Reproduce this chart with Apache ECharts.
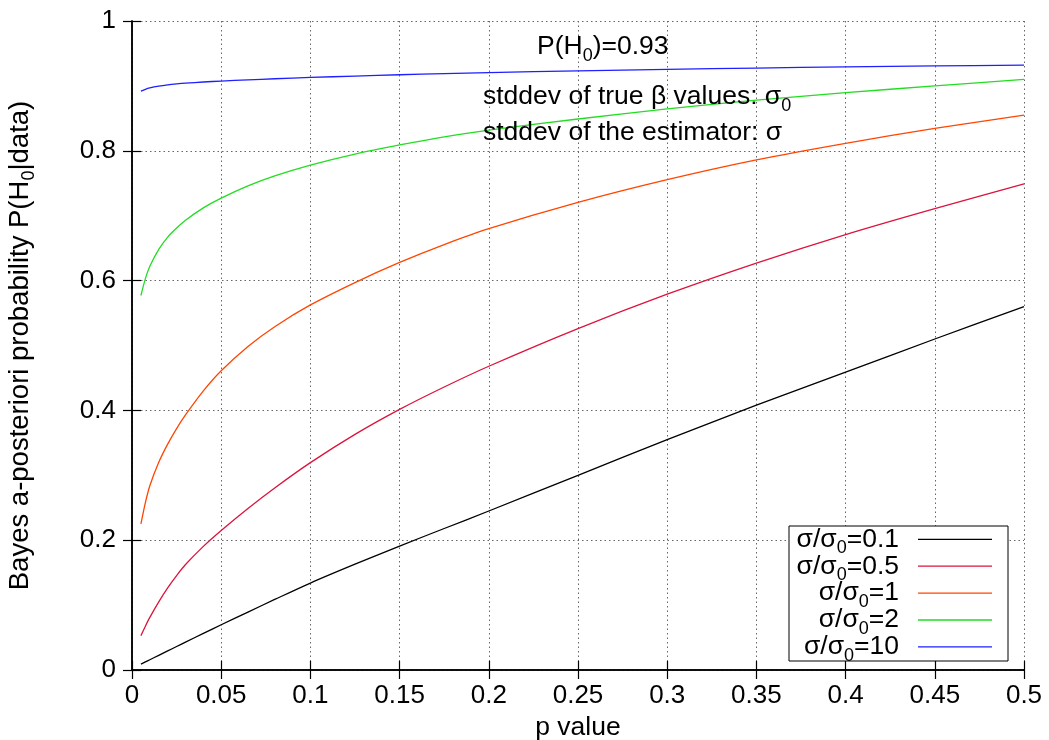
<!DOCTYPE html>
<html><head><meta charset="utf-8">
<script src="https://cdn.jsdelivr.net/npm/echarts@6/dist/echarts.min.js"></script>
<style>html,body{margin:0;padding:0;background:#fff}#chart{width:1049px;height:740px}</style>
</head><body><div id="chart"></div>
<script>
// ---- data ----
const pValues = [0.005, 0.0075, 0.01, 0.015, 0.02, 0.025, 0.03, 0.04, 0.05, 0.065, 0.08, 0.1, 0.125, 0.15, 0.175, 0.2, 0.25, 0.3, 0.35, 0.4, 0.45, 0.5];
const ratioLabels = ['0.1', '0.5', '1', '2', '10'];
const seriesColors = ['#000000', '#dc143c', '#ff4500', '#22dd22', '#1f1fff'];
const postRatio01 = [0.009, 0.0124, 0.0158, 0.0226, 0.0294, 0.0362, 0.043, 0.0564, 0.0697, 0.0892, 0.1087, 0.134, 0.163, 0.191, 0.218, 0.245, 0.300, 0.355, 0.408, 0.459, 0.510, 0.560];
const postRatio05 = [0.053, 0.0675, 0.081, 0.105, 0.1265, 0.1455, 0.1625, 0.1905, 0.215, 0.249, 0.2805, 0.3195, 0.363, 0.4015, 0.436, 0.468, 0.526, 0.579, 0.627, 0.671, 0.711, 0.749];
const postRatio1 = [0.225, 0.258, 0.284, 0.320, 0.348, 0.372, 0.393, 0.430, 0.461, 0.4985, 0.529, 0.5625, 0.597, 0.628, 0.6555, 0.680, 0.7205, 0.7555, 0.786, 0.8115, 0.8345, 0.855];
const postRatio2 = [0.577, 0.603, 0.622, 0.648, 0.667, 0.681, 0.693, 0.712, 0.727, 0.7459, 0.7613, 0.778, 0.795, 0.809, 0.8215, 0.832, 0.849, 0.8645, 0.878, 0.8895, 0.900, 0.910];
const postRatio10 = [0.892, 0.8948, 0.8968, 0.8995, 0.9015, 0.903, 0.9042, 0.906, 0.9075, 0.9093, 0.911, 0.913, 0.9152, 0.9172, 0.919, 0.9205, 0.9232, 0.9255, 0.9275, 0.9293, 0.9308, 0.932];
const allSeries = [postRatio01, postRatio05, postRatio1, postRatio2, postRatio10];
const xAxisMin = 0, xAxisMax = 0.5, xAxisStep = 0.05;
const yAxisMin = 0, yAxisMax = 1, yAxisStep = 0.2;
const priorText = 'P(H{s|0})=0.93';
const noteLine1 = 'stddev of true β values: σ{s|0}';
const noteLine2 = 'stddev of the estimator: σ';
const xTitle = 'p value';
const yTitle = 'Bayes a-posteriori probability P(H{s|0}|data)';

// ---- styling ----
const F = "'Liberation Sans', Arial, Helvetica, sans-serif";
const FS = 26.5;
function makeRich(size) {
  return {
    m: { fontSize: size, fontFamily: F, lineHeight: 36, fill: '#000', color: '#000' },
    s: { fontSize: 18, fontFamily: F, lineHeight: 18, verticalAlign: 'bottom', fill: '#000', color: '#000' }
  };
}
const richStyles = makeRich(FS);
function richText(str) {
  return str.split(/(\{s\|[^}]*\})/).filter(t => t.length).map(t => t.startsWith('{s|') ? t : '{m|' + t + '}').join('');
}

const chart = echarts.init(document.getElementById('chart'), null, { renderer: 'canvas' });

const series = allSeries.map((vals, i) => ({
  name: 'σ/σ0=' + ratioLabels[i],
  type: 'line',
  data: pValues.map((p, j) => [p, vals[j]]),
  showSymbol: false,
  smooth: 0.3,
  lineStyle: { color: seriesColors[i], width: 1.3 },
  itemStyle: { color: seriesColors[i] },
  z: 3
}));

const gridLine = { show: true, lineStyle: { color: '#666', type: [1.5, 3], width: 1 } };
const axisLineStyle = { show: true, lineStyle: { color: '#000', width: 1.5 } };
const tickStyle = { show: true, inside: true, length: 9, lineStyle: { color: '#000', width: 1.2 } };

const legendGraphics = [];
const rowY0 = 539.3, rowStep = 26.9;
legendGraphics.push({
  type: 'rect', z: 100,
  shape: { x: 789, y: 526, width: 219, height: 135 },
  style: { fill: '#fff', stroke: '#000', lineWidth: 1 }
});
ratioLabels.forEach((r, i) => {
  const y = rowY0 + rowStep * i;
  legendGraphics.push({
    type: 'text', z: 101, x: 899, y: y,
    style: { text: richText('σ/σ{s|0}=' + r), align: 'right', verticalAlign: 'middle', rich: richStyles, fontFamily: F, fontSize: FS, fill: '#000' }
  });
  legendGraphics.push({
    type: 'line', z: 101,
    shape: { x1: 918, y1: y, x2: 992, y2: y },
    style: { stroke: seriesColors[i], lineWidth: 1.3 }
  });
});

const noteGraphics = [
  { type: 'text', z: 50, x: 537, y: 47, style: { text: richText(priorText), align: 'left', verticalAlign: 'middle', rich: richStyles, fontFamily: F, fontSize: FS, fill: '#000' } },
  { type: 'text', z: 50, x: 483, y: 97, style: { text: richText(noteLine1), align: 'left', verticalAlign: 'middle', rich: richStyles, fontFamily: F, fontSize: FS, fill: '#000' } },
  { type: 'text', z: 50, x: 483, y: 133, style: { text: richText(noteLine2), align: 'left', verticalAlign: 'middle', rich: richStyles, fontFamily: F, fontSize: FS, fill: '#000' } }
];

const option = {
  animation: false,
  backgroundColor: '#fff',
  grid: { left: 132, right: 25, top: 21, bottom: 70, containLabel: false, outerBoundsMode: 'none' },
  xAxis: [{
    type: 'value', min: xAxisMin, max: xAxisMax, interval: xAxisStep,
    position: 'bottom',
    name: xTitle, nameLocation: 'middle', nameGap: 41,
    nameTextStyle: { fontSize: 26.5, fontFamily: F, color: '#000' },
    axisLine: axisLineStyle, axisTick: tickStyle,
    axisLabel: { fontSize: 26, fontFamily: F, color: '#000', margin: 13 },
    splitLine: gridLine
  }, {
    type: 'value', min: xAxisMin, max: xAxisMax, interval: xAxisStep,
    position: 'top',
    axisLine: axisLineStyle, axisTick: tickStyle,
    axisLabel: { show: false }, splitLine: { show: false }
  }],
  yAxis: [{
    type: 'value', min: yAxisMin, max: yAxisMax, interval: yAxisStep,
    position: 'left',
    name: richText(yTitle), nameLocation: 'middle', nameGap: 94, nameRotate: 90,
    nameTextStyle: { fontSize: 27.5, fontFamily: F, color: '#000', lineHeight: 36, rich: makeRich(27.5) },
    axisLine: axisLineStyle, axisTick: tickStyle,
    axisLabel: { fontSize: 26, fontFamily: F, color: '#000', margin: 16 },
    splitLine: gridLine
  }, {
    type: 'value', min: yAxisMin, max: yAxisMax, interval: yAxisStep,
    position: 'right',
    axisLine: axisLineStyle, axisTick: tickStyle,
    axisLabel: { show: false }, splitLine: { show: false }
  }],
  series: series,
  graphic: noteGraphics.concat(legendGraphics)
};
chart.setOption(option);
</script>
</body></html>
